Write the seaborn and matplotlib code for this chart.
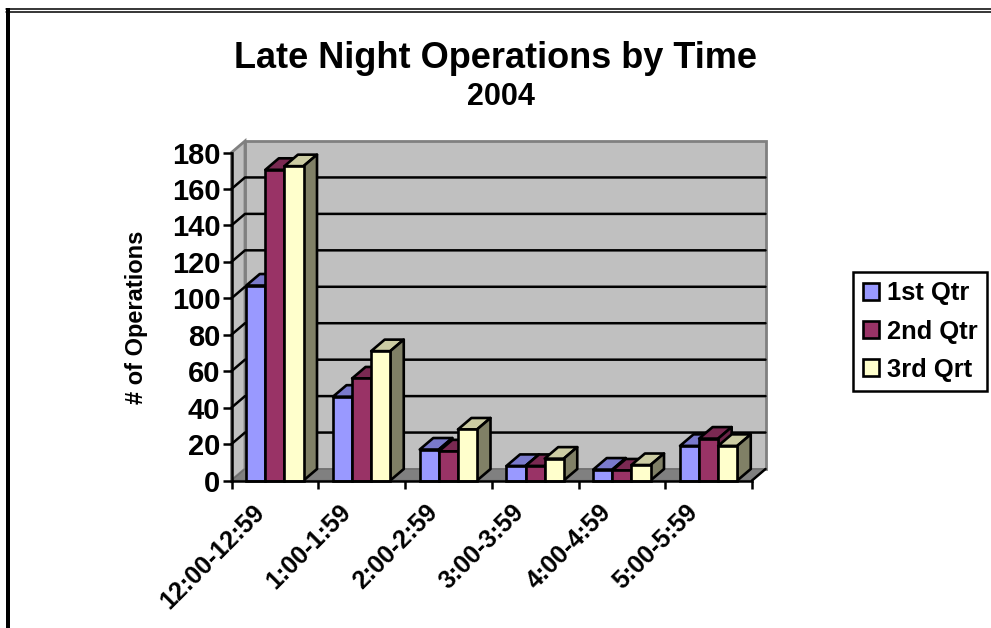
import pandas as pd
import matplotlib.pyplot as plt
from matplotlib.patches import Polygon, Rectangle
from matplotlib.lines import Line2D
from matplotlib.transforms import ScaledTranslation
import seaborn as sns

sns.set_style("ticks")
plt.rcParams['font.family'] = ['Liberation Sans', 'DejaVu Sans']
plt.rcParams['font.weight'] = 'bold'
plt.rcParams['text.color'] = 'black'
plt.rcParams['xtick.labelcolor'] = 'black'
plt.rcParams['ytick.labelcolor'] = 'black'
plt.rcParams['xtick.color'] = 'black'
plt.rcParams['ytick.color'] = 'black'

times = ["12:00-12:59", "1:00-1:59", "2:00-2:59", "3:00-3:59", "4:00-4:59", "5:00-5:59"]
qtr1 = [107, 46, 17, 8, 6, 19]
qtr2 = [170.5, 56, 16, 8, 5.5, 23]
qtr3 = [172.5, 71, 28, 12, 8.5, 19]
quarters = ["1st Qtr", "2nd Qtr", "3rd Qrt"]
y_ticks = [0, 20, 40, 60, 80, 100, 120, 140, 160, 180]

front = ["#9999FF", "#993366", "#FFFFCC"]
top = ["#7A7ACC", "#7A2952", "#CCCCA3"]
side = ["#6B6BB3", "#6B2447", "#808066"]

df = pd.DataFrame({"time": times * 3,
                   "ops": qtr1 + qtr2 + qtr3,
                   "quarter": [q for q in quarters for _ in times]})

W, H = 991, 628
fig = plt.figure(figsize=(W / 100, H / 100), dpi=100)
# axes = the front plane of the fake 3d box
x0, x1, y0, y1 = 231.5, 752, 480.5, 152.5
ax = fig.add_axes([x0 / W, 1 - y0 / H, (x1 - x0) / W, (y0 - y1) / H])
ax.patch.set_visible(False)

sns.barplot(data=df, x="time", y="ops", hue="quarter", order=times, hue_order=quarters,
            palette=front, saturation=1, width=0.66, gap=0, edgecolor="black", linewidth=1.9,
            ax=ax)
ax.set_xlim(-0.5, 5.5)
ax.set_ylim(0, 180)

# depth offset in data units
dx = 13.5 / ((x1 - x0) / 6)
dy = 11.5 / ((y0 - y1) / 180)

# walls and floor
xa, xb = -0.5, 5.5
ax.add_patch(Polygon([(xa + dx, dy), (xa + dx, 180 + dy), (xb + dx, 180 + dy), (xb + dx, dy)],
                     fc="#C0C0C0", ec="#808080", lw=2, zorder=0.5, clip_on=False))
ax.add_patch(Polygon([(xa, 0), (xa, 180), (xa + dx, 180 + dy), (xa + dx, dy)],
                     fc="#C0C0C0", ec="#808080", lw=2, zorder=0.5, clip_on=False))
ax.add_patch(Polygon([(xa, 0), (xa + dx, dy), (xb + dx, dy), (xb, 0)],
                     fc="#808080", ec="#6E6E6E", lw=1, zorder=0.6, clip_on=False))
ax.plot([xb, xb + dx], [0, dy], color="black", lw=1.8, zorder=0.7, clip_on=False)

# gridlines run along left wall then back wall
for t in y_ticks[1:-1]:
    ax.plot([xa, xa + dx, xb + dx], [t, t + dy, t + dy], color="black", lw=1.8, zorder=0.8,
            clip_on=False)

# bar tops and sides, painted left to right
for j, cont in enumerate(ax.containers):
    for i, bar in enumerate(cont):
        bx, bw, bh = bar.get_x(), bar.get_width(), bar.get_height()
        z = 2 + i * 10 + j * 2
        bar.set_zorder(z + 1)
        bar.set_clip_on(False)
        ax.add_patch(Polygon([(bx, bh), (bx + dx, bh + dy), (bx + bw + dx, bh + dy), (bx + bw, bh)],
                             fc=top[j], ec="black", lw=1.9, zorder=z, clip_on=False,
                             joinstyle="round"))
        ax.add_patch(Polygon([(bx + bw, 0), (bx + bw, bh), (bx + bw + dx, bh + dy), (bx + bw + dx, dy)],
                             fc=side[j], ec="black", lw=1.9, zorder=z, clip_on=False,
                             joinstyle="round"))

# axes lines, ticks, labels
sns.despine(ax=ax, top=True, right=True)
for s in ["left", "bottom"]:
    ax.spines[s].set_linewidth(1.8)
    ax.spines[s].set_color("black")
    ax.spines[s].set_zorder(100)
ax.set_yticks(y_ticks)
ax.tick_params(axis="y", length=6.5, width=1.8, labelsize=21, pad=1.5)
ax.set_xticks([i - 0.5 for i in range(7)])
ax.set_xticklabels([])
ax.set_xticks(range(6), times, minor=True)
ax.tick_params(axis="x", which="major", length=6, width=1.8)
ax.tick_params(axis="x", which="minor", length=0, labelsize=18, pad=12)
shift = ScaledTranslation(-23 / 100, -3 / 100, fig.dpi_scale_trans)
for lab in ax.get_xticklabels(minor=True):
    lab.set_rotation(45)
    lab.set_ha("right")
    lab.set_rotation_mode("anchor")
    lab.set_transform(lab.get_transform() + shift)
ax.set_xlabel("")
ax.set_ylabel("")

fig.text(136 / W, 1 - 317 / H, "# of Operations", rotation=90, ha="center", va="center",
         fontsize=17, fontweight="bold")
fig.text(496 / W, 1 - 58.5 / H, "Late Night Operations by Time", ha="center", va="center",
         fontsize=26, fontweight="bold")
fig.text(501 / W, 1 - 97 / H, "2004", ha="center", va="center", fontsize=22, fontweight="bold")

sns.move_legend(ax, loc="center left", bbox_to_anchor=(853 / W, 1 - 331.5 / H),
                bbox_transform=fig.transFigure, title=None, frameon=True, fancybox=False,
                edgecolor="black", framealpha=1, fontsize=18.4, handlelength=0.63, handleheight=0.63,
                handletextpad=0.31, labelspacing=0.55, borderpad=0.38, borderaxespad=0)
ax.get_legend().get_frame().set_linewidth(1.8)
ax.get_legend().set_zorder(200)

# page border from the source document
fig.add_artist(Line2D([6 / W, 1], [1 - 8.5 / H, 1 - 8.5 / H], color="black", lw=1.1))
fig.add_artist(Line2D([6 / W, 1], [1 - 11.5 / H, 1 - 11.5 / H], color="black", lw=1.1))
fig.add_artist(Rectangle((6 / W, 0), 4 / W, 1 - 8 / H, transform=fig.transFigure, fc="black", ec="none"))

fig.savefig("out.png", dpi=100)
plt.close()
